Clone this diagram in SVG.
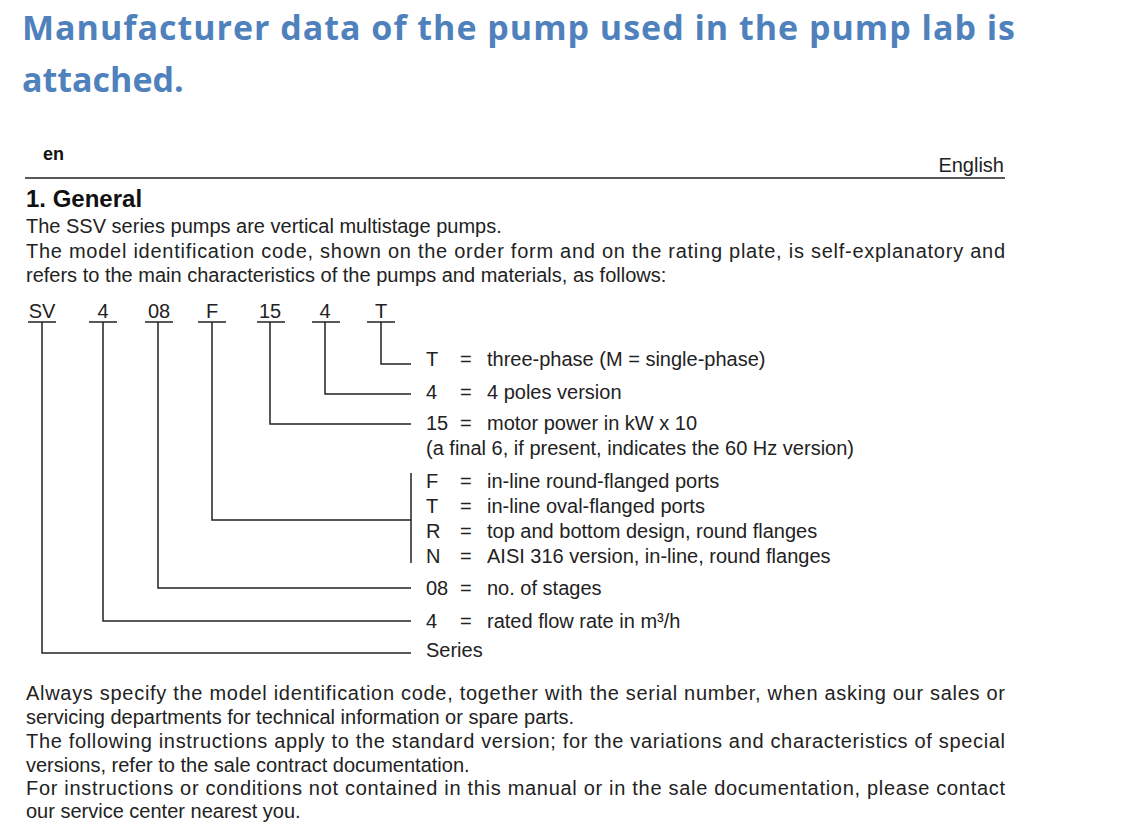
<svg xmlns="http://www.w3.org/2000/svg" width="1125" height="832" viewBox="0 0 1125 832">
<style>
.t{font-family:"Open Sans","Liberation Sans",sans-serif;font-weight:bold;font-size:34px;fill:#4F81BD}
.b{font-family:"Liberation Sans",Arial,sans-serif;font-size:20px;fill:#222}
.bb{font-family:"Liberation Sans",Arial,sans-serif;font-weight:bold;fill:#111}
.l{stroke:#222;stroke-width:1.5;fill:none}
</style>
<rect width="1125" height="832" fill="#fff"/>
<text class="t" x="22" y="40" textLength="993">Manufacturer data of the pump used in the pump lab is</text>
<text class="t" x="22" y="92">attached.</text>
<text class="bb" x="43" y="160" font-size="18">en</text>
<text class="b" x="1004" y="172" text-anchor="end">English</text>
<line class="l" x1="25" y1="178" x2="1005" y2="178"/>
<text class="bb" x="26" y="207" font-size="24">1.  General</text>
<text class="b" x="26" y="233">The SSV series pumps are vertical multistage pumps.</text>
<text class="b" x="26" y="258" textLength="979">The model identification code, shown on the order form and on the rating plate, is self-explanatory and</text>
<text class="b" x="26" y="282">refers to the main characteristics of the pumps and materials, as follows:</text>
<g id="code" class="b" text-anchor="middle">
<text x="42" y="318">SV</text><text x="103" y="318">4</text><text x="159" y="318">08</text><text x="212" y="318">F</text><text x="270" y="318">15</text><text x="325" y="318">4</text><text x="381" y="318">T</text>
</g>
<g id="connectors" class="l">
<path d="M28 322H56M89 322H117M145 322H173M198 322H226M257 322H285M312 322H340M367 322H395"/>
<path d="M381 322V364H411"/>
<path d="M325 322V394H411"/>
<path d="M270 322V424H411"/>
<path d="M212 322V520H411"/>
<path d="M411 473V563"/>
<path d="M158 322V588H411"/>
<path d="M103 322V621H411"/>
<path d="M42 322V653H411"/>
</g>
<g id="legend" class="b">
<text x="426" y="366">T</text><text x="460" y="366">=</text><text x="487" y="366">three-phase (M = single-phase)</text>
<text x="426" y="399">4</text><text x="460" y="399">=</text><text x="487" y="399">4 poles version</text>
<text x="426" y="430">15</text><text x="460" y="430">=</text><text x="487" y="430">motor power in kW x 10</text>
<text x="426" y="455">(a final 6, if present, indicates the 60 Hz version)</text>
<text x="426" y="488">F</text><text x="460" y="488">=</text><text x="487" y="488">in-line round-flanged ports</text>
<text x="426" y="513">T</text><text x="460" y="513">=</text><text x="487" y="513">in-line oval-flanged ports</text>
<text x="426" y="538">R</text><text x="460" y="538">=</text><text x="487" y="538">top and bottom design, round flanges</text>
<text x="426" y="563">N</text><text x="460" y="563">=</text><text x="487" y="563">AISI 316 version, in-line, round flanges</text>
<text x="426" y="595">08</text><text x="460" y="595">=</text><text x="487" y="595">no. of stages</text>
<text x="426" y="628">4</text><text x="460" y="628">=</text><text x="487" y="628">rated flow rate in m³/h</text>
<text x="426" y="657">Series</text>
</g>
<g class="b">
<text x="26" y="700" textLength="979">Always specify the model identification code, together with the serial number, when asking our sales or</text>
<text x="26" y="724">servicing departments for technical information or spare parts.</text>
<text x="26" y="748" textLength="979">The following instructions apply to the standard version; for the variations and characteristics of special</text>
<text x="26" y="772">versions, refer to the sale contract documentation.</text>
<text x="26" y="795" textLength="979">For instructions or conditions not contained in this manual or in the sale documentation, please contact</text>
<text x="26" y="818">our service center nearest you.</text>
</g>
</svg>
